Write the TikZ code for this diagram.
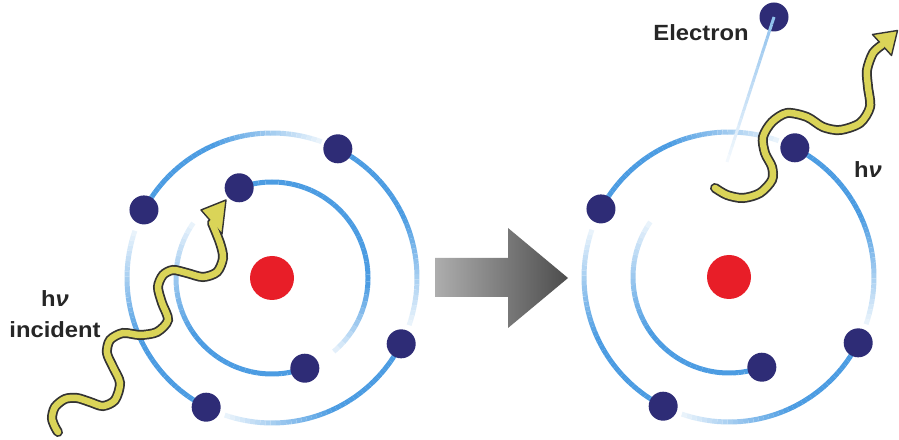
\documentclass[tikz,border=0pt]{standalone}
\usepackage{fontspec}
\newfontfamily\labelfont{Liberation Sans}
\usetikzlibrary{calc}

\definecolor{orbitblue}{RGB}{76,156,226}
\definecolor{electronblue}{RGB}{46,44,118}
\definecolor{nucleusred}{RGB}{232,30,40}
\definecolor{photonyellow}{RGB}{218,212,88}

\tikzset{
  electron/.style={circle, fill=electronblue, inner sep=0pt, minimum size=29pt},
  nucleus/.style={circle, fill=nucleusred, inner sep=0pt, minimum size=44pt},
  textlabel/.style={font=\labelfont\bfseries\fontsize{22}{24}\selectfont, text=black!85, inner sep=0pt},
  photon outline/.style={draw=black!80, line width=10pt, line cap=round},
  photon core/.style={draw=photonyellow, line width=6.5pt, line cap=round},
}

% fading tail of an orbit: centre, radius, start angle, span, solid segments
\newcommand{\orbittail}[5]{%
  \foreach \i in {0,...,39}{%
    \pgfmathsetmacro\ta{#3-\i*#4/40}%
    \pgfmathsetmacro\tb{#3-(\i+1)*#4/40}%
    \pgfmathsetmacro\tp{\i<#5 ? 100 : 100-(\i-#5)*92/(40-#5)}%
    \draw[orbitblue!\tp!white, line width=5pt] (#1) ++(\ta:#2) arc[start angle=\ta, end angle=\tb, radius=#2];
  }%
}

\begin{document}
\begin{tikzpicture}[x=1pt,y=1pt]
  \useasboundingbox (0,0) rectangle (899,439);

  % centres
  \coordinate (L) at (272,161);
  \coordinate (R) at (729,162);

  % orbits, left atom
  \orbittail{L}{145}{152}{82}{18}
  \orbittail{L}{145}{63}{82}{18}
  \orbittail{L}{145}{-27}{82}{18}
  \orbittail{L}{145}{-117}{82}{18}
  \orbittail{L}{96}{110}{160}{28}
  \orbittail{L}{96}{-70}{145}{20}

  % orbits, right atom
  \orbittail{R}{145}{152}{82}{18}
  \orbittail{R}{145}{63}{82}{18}
  \orbittail{R}{145}{-27}{82}{18}
  \orbittail{R}{145}{-117}{82}{18}
  \orbittail{R}{96}{-70}{145}{20}

  % track of the ejected electron
  \coordinate (ej) at (727,277);
  \node[electron] (e0) at (774,422) {};
  \foreach \i in {0,...,19}{
    \pgfmathsetmacro\ta{\i/20}
    \pgfmathsetmacro\tb{(\i+1)/20}
    \pgfmathsetmacro\tp{62-\i*2.9}
    \draw[orbitblue!\tp!white, line width=3pt] ($(e0)!\ta!(ej)$) -- ($(e0)!\tb!(ej)$);
  }

  % big arrow
  \shade[left color=black!32, right color=black!70]
    (435,181) -- (508,181) -- (508,211) -- (568,161) -- (508,111) -- (508,142) -- (435,142) -- cycle;

  % incoming photon
  \def\incidentwave{plot[smooth] coordinates {(58,7) (55,12) (52,21) (55,32) (65,40) (77,41)
    (90,37) (103,33) (115,39) (120,56) (113,72) (107,86) (110,99) (123,106) (140,104)
    (157,107) (168,119) (162,136) (158,152) (163,164) (173,169) (187,166) (203,162)
    (217,167) (223,181) (220,196) (212,216)}}
  \draw[photon outline] \incidentwave;
  \filldraw[fill=photonyellow, draw=black!80, line width=1.4pt, line join=round]
    (201,229) -- (226,239) -- (222,205) -- cycle;
  \draw[photon core] \incidentwave;

  % outgoing photon
  \def\emittedwave{plot[smooth] coordinates {(715,251) (727,244) (743,241) (760,246)
    (772,259) (772,272) (765,286) (763,302) (772,317) (787,326) (807,322) (823,312)
    (840,309) (860,316) (870,332) (868,352) (867,369) (873,386) (882,394)}}
  \draw[photon outline] \emittedwave;
  \filldraw[fill=photonyellow, draw=black!80, line width=1.4pt, line join=round]
    (872.5,404.5) -- (897.5,408.5) -- (891.5,383.5) -- cycle;
  \draw[photon core] \emittedwave;

  % nuclei
  \node[nucleus] (nl) at (L) {};
  \node[nucleus] (nr) at (R) {};

  % electrons, left atom
  \node[electron] (l1) at ($(L)+(152:145)$) {};
  \node[electron] (l2) at ($(L)+(63:145)$) {};
  \node[electron] (l3) at ($(L)+(-27:145)$) {};
  \node[electron] (l4) at ($(L)+(-117:145)$) {};
  \node[electron] (l5) at ($(L)+(110:96)$) {};
  \node[electron] (l6) at ($(L)+(-70:96)$) {};

  % electrons, right atom
  \node[electron] (r1) at ($(R)+(152:145)$) {};
  \node[electron] (r2) at ($(R)+(63:145)$) {};
  \node[electron] (r3) at ($(R)+(-27:145)$) {};
  \node[electron] (r4) at ($(R)+(-117:145)$) {};
  \node[electron] (r6) at ($(R)+(-70:96)$) {};

  % labels
  \node[textlabel] (hvin) at (55,140) {\scalebox{1.08}[1]{h\textit{ν}}};
  \node[textlabel] (incident) at (55,109) {\scalebox{1.08}[1]{incident}};
  \node[textlabel] (electron) at (701,406) {\scalebox{1.08}[1]{Electron}};
  \node[textlabel] (hvout) at (868,269) {\scalebox{1.08}[1]{h\textit{ν}}};
\end{tikzpicture}
\end{document}
